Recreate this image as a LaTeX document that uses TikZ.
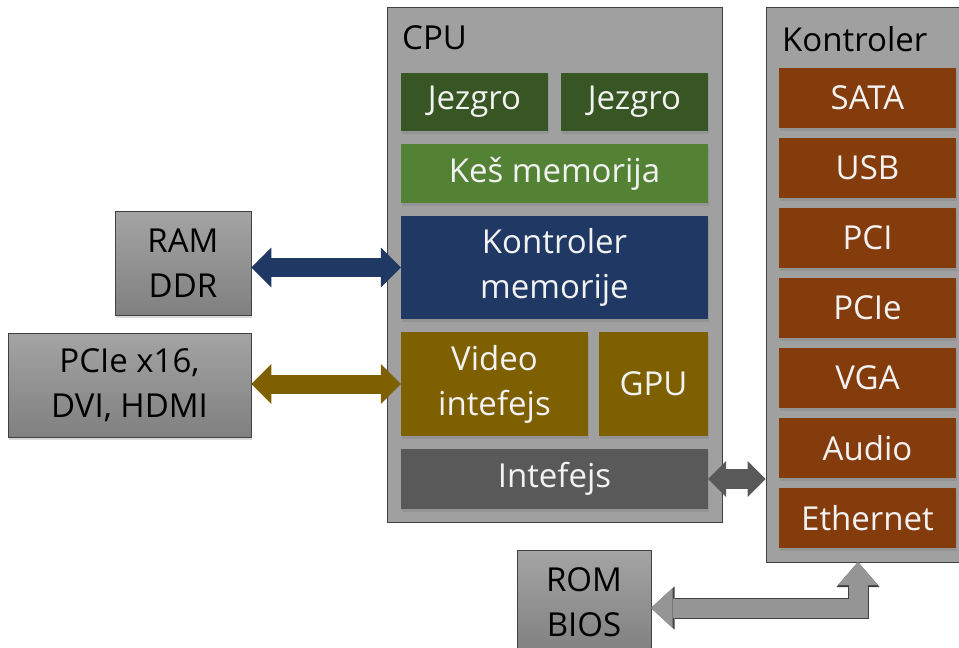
\documentclass[tikz,border=0pt]{standalone}
\usepackage{fontspec}
\setmainfont{Open Sans}
\usetikzlibrary{arrows.meta,shadows}

\definecolor{boxgray}{HTML}{A0A0A0}
\definecolor{edgegray}{HTML}{404040}
\definecolor{devtop}{HTML}{A4A4A4}
\definecolor{devbot}{HTML}{808080}
\definecolor{coregreen}{HTML}{375623}
\definecolor{cachegreen}{HTML}{548235}
\definecolor{memblue}{HTML}{203864}
\definecolor{videoolive}{HTML}{7F6000}
\definecolor{ifgray}{HTML}{595959}
\definecolor{rust}{HTML}{843C0C}
\definecolor{romgray}{HTML}{959595}

\begin{document}
\begin{tikzpicture}[x=1pt, y=-1pt,
  every node/.style={font=\fontsize{33}{45}\selectfont, align=center, inner sep=0pt},
  frame/.style={draw=edgegray, fill=boxgray, line width=0.8pt},
  unit/.style={fill=#1, text=white!95!black,
    drop shadow={opacity=0.35, shadow xshift=1pt, shadow yshift=-3pt}},
  device/.style={draw=edgegray, line width=0.8pt, top color=devtop, bottom color=devbot,
    minimum height=104pt, drop shadow={opacity=0.3, shadow xshift=1pt, shadow yshift=-3pt}},
  bus/.style={line width=19pt,
    {Triangle[width=40pt,length=20pt,line width=0pt]}-{Triangle[width=40pt,length=20pt,line width=0pt]}}
]
  \useasboundingbox (0,0) rectangle (959,648);

  % CPU
  \node[frame, minimum width=335pt, minimum height=515pt] (cpu) at (554.5,264.5) {};
  \node[anchor=base west] (cpulabel) at (402,49) {CPU};
  \node[unit=coregreen, minimum width=147pt, minimum height=58pt] (core1) at (474.5,102) {Jezgro};
  \node[unit=coregreen, minimum width=147pt, minimum height=58pt] (core2) at (634.5,102) {Jezgro};
  \node[unit=cachegreen, minimum width=307pt, minimum height=59pt] (cache) at (554.5,173.5) {Keš memorija};
  \node[unit=memblue, minimum width=307pt, minimum height=103pt] (memctrl) at (554.5,267.5) {Kontroler\\memorije};
  \node[unit=videoolive, minimum width=187pt, minimum height=104pt] (video) at (494.5,384) {Video\\intefejs};
  \node[unit=videoolive, minimum width=109pt, minimum height=104pt] (gpu) at (653.5,384) {GPU};
  \node[unit=ifgray, minimum width=307pt, minimum height=60pt] (iface) at (554.5,479) {Intefejs};

  % Kontroler
  \node[frame, minimum width=204pt, minimum height=555pt] (kontr) at (868,284.5) {};
  \node[anchor=base west] (kontrlabel) at (782,51) {Kontroler};
  \foreach \name/\txt/\y in {sata/SATA/98, usb/USB/168, pci/PCI/238, pcie/PCIe/308,
      vga/VGA/378, audio/Audio/448, eth/Ethernet/518}
    \node[unit=rust, minimum width=177pt, minimum height=60pt] (\name) at (867.5,\y) {\txt};

  % outside devices
  \node[device, minimum width=136pt] (ram) at (183,263) {RAM\\DDR};
  \node[device, minimum width=243pt] (pcix) at (129.5,385) {PCIe x16,\\DVI, HDMI};
  \node[device, minimum width=134pt] (rom) at (584,602) {ROM\\BIOS};

  % buses
  \draw[bus, memblue] (memctrl.west -| ram.east) -- (memctrl.west);
  \draw[bus, videoolive] (video.west -| pcix.east) -- (video.west);
  \draw[ifgray, line width=20pt,
    {Triangle[width=36pt,length=18pt,line width=0pt]}-{Triangle[width=36pt,length=18pt,line width=0pt]}]
    (iface.east) -- (iface.east -| kontr.west);

  % ROM bus, outline first
  \coordinate (romend) at (651,608);
  \coordinate (romtip) at (858,562);
  \draw[edgegray, line width=21pt, line join=miter,
    {Triangle[width=43pt,length=23.5pt,line width=0pt]}-{Triangle[width=43pt,length=25pt,line width=0pt]}]
    (romend) -| (romtip);
  \draw[romgray, line width=19pt, line join=miter,
    {Triangle[width=40pt,length=21.5pt,line width=0pt]}-{Triangle[width=40pt,length=23pt,line width=0pt]}]
    (romend) -| (romtip);
\end{tikzpicture}
\end{document}
